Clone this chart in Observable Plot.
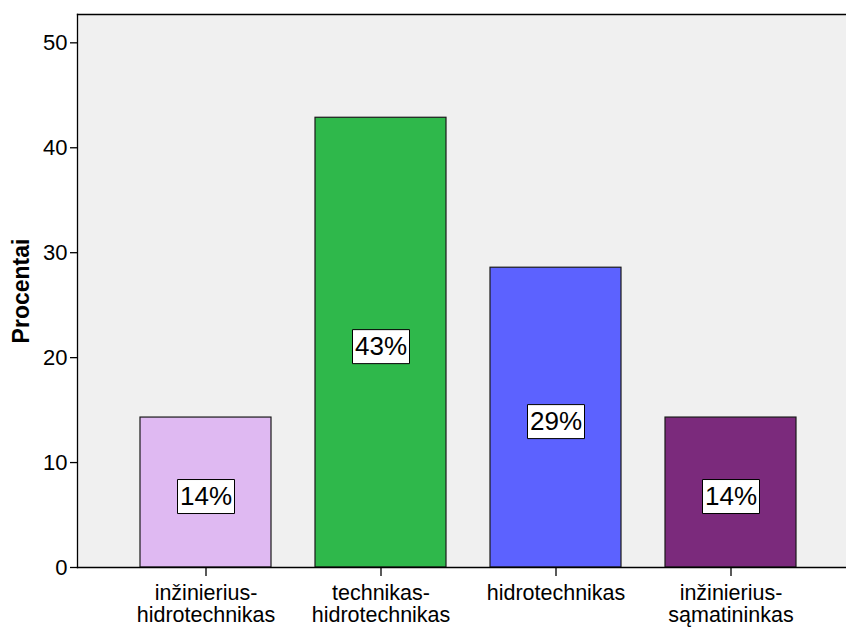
<!DOCTYPE html>
<html>
<head>
<meta charset="utf-8">
<script src="https://cdn.jsdelivr.net/npm/d3@7"></script>
<script src="https://cdn.jsdelivr.net/npm/@observablehq/plot@0.6"></script>
<style>
  html, body { margin: 0; padding: 0; background: #fff; }
  #chart svg { display: block; }
</style>
</head>
<body>
<div id="chart"></div>
<script>
const categories = ["inžinierius-hidrotechnikas", "technikas-hidrotechnikas", "hidrotechnikas", "inžinierius-sąmatininkas"];
const tickLabels = ["inžinierius-\nhidrotechnikas", "technikas-\nhidrotechnikas", "hidrotechnikas", "inžinierius-\nsąmatininkas"];
const percents = [14.29, 42.86, 28.57, 14.29];
const palette = ["#dfb9f2", "#2fb84b", "#5c62ff", "#7b2a7c"];
const yTicks = [0, 10, 20, 30, 40, 50];

const data = categories.map((c, i) => ({cat: c, pct: percents[i]}));
const labelOf = new Map(categories.map((c, i) => [c, tickLabels[i]]));

const boxSymbol = { draw(ctx) { ctx.rect(-28.5, -17, 57, 34); } };

const chart = Plot.plot({
  width: 846,
  height: 628,
  marginLeft: 77,
  marginRight: 0,
  marginTop: 14,
  marginBottom: 61,
  style: { fontFamily: "'Liberation Sans', Arial, sans-serif", background: "#fff", color: "#000" },
  x: { domain: categories, range: [77, 859], paddingInner: 0.25, paddingOuter: 0.347 },
  y: { domain: [0, 52.7] },
  color: { domain: categories, range: palette },
  marks: [
    Plot.frame({ fill: "#f0f0f0", stroke: null }),
    Plot.barY(data, { x: "cat", y: "pct", fill: "cat", stroke: "#1a1a1a", strokeWidth: 1.2 }),
    Plot.dot(data, { x: "cat", y: d => d.pct / 2, symbol: boxSymbol, fill: "#fff", stroke: "#000", strokeWidth: 1, dy: 4, r: 1 }),
    Plot.text(data, { x: "cat", y: d => d.pct / 2, text: d => Math.round(d.pct) + "%", fontSize: 26, fill: "#000", dy: 4 }),
    Plot.frame({ anchor: "left", stroke: "#000", strokeWidth: 1.3 }),
    Plot.frame({ anchor: "top", stroke: "#000", strokeWidth: 1.3 }),
    Plot.frame({ anchor: "bottom", stroke: "#000", strokeWidth: 1.3 }),
    Plot.axisY({ ticks: yTicks, tickSize: 7, tickPadding: 3, fontSize: 22, label: null, stroke: "#000", strokeWidth: 1.3 }),
    Plot.axisX({ tickFormat: d => labelOf.get(d), tickSize: 9, tickPadding: 8, fontSize: 21.5, lineHeight: 1.02, label: null, stroke: "#000", strokeWidth: 1.3 }),
    Plot.text(["Procentai"], { frameAnchor: "left", textAnchor: "middle", rotate: -90, dx: -56, fontSize: 23, fontWeight: "bold", fill: "#000" })
  ]
});
document.getElementById("chart").appendChild(chart);
</script>
</body>
</html>
